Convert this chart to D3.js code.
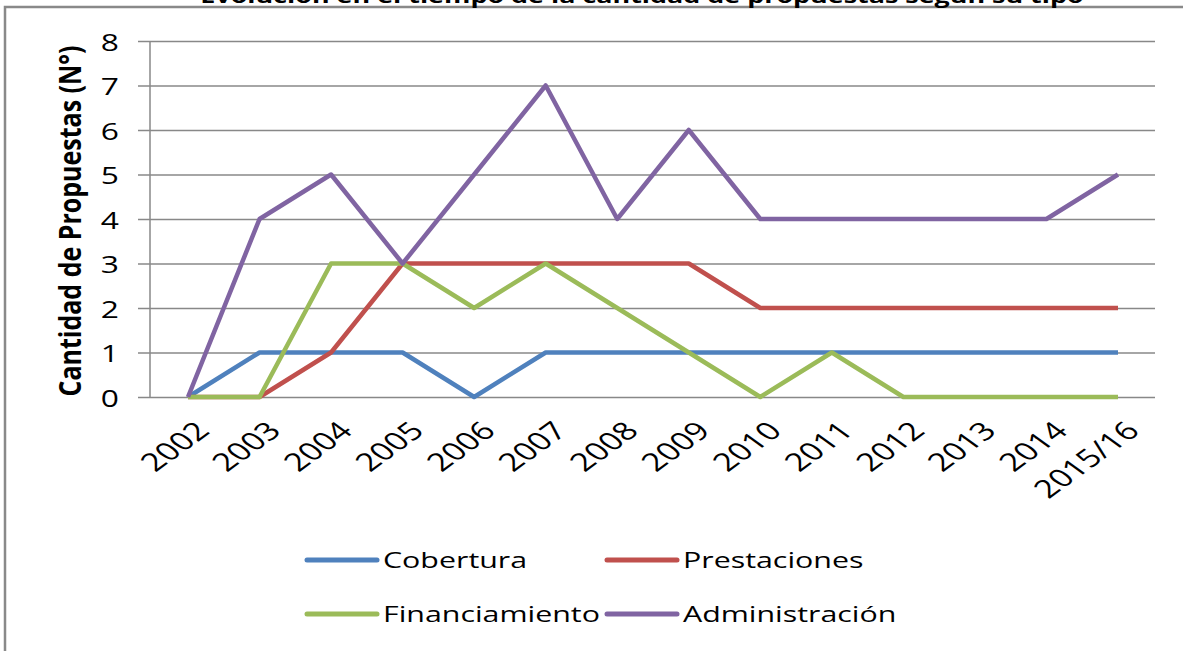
<!DOCTYPE html>
<html lang="es">
<head>
<meta charset="UTF-8">
<title>Evolución de propuestas</title>
<script src="https://d3js.org/d3.v7.min.js"></script>
<style>
    body { margin: 0; background: #fff; }
    svg text { font-family: "Open Sans", sans-serif; fill: #000; }
</style>
</head>
<body>
<svg id="chart" width="1183" height="651"></svg>
<script>
    // categories and series
    let years = ["2002","2003","2004","2005","2006","2007","2008","2009","2010","2011","2012","2013","2014","2015/16"];
    let cobertura      = [0,1,1,1,0,1,1,1,1,1,1,1,1,1];
    let prestaciones   = [0,0,1,3,3,3,3,3,2,2,2,2,2,2];
    let financiamiento = [0,0,3,3,2,3,2,1,0,1,0,0,0,0];
    let administracion = [0,4,5,3,5,7,4,6,4,4,4,4,4,5];
    let yTicks = [0,1,2,3,4,5,6,7,8];

    let seriesNames  = ["Cobertura","Prestaciones","Financiamiento","Administración"];
    let seriesValues = [cobertura, prestaciones, financiamiento, administracion];
    let colors = ["#4F81BD","#C0504D","#9BBB59","#8064A2"];

    let stretch = 1.38; // the original picture is stretched sideways

    let svg = d3.select("#chart");

    // outer frame
    svg.append("rect")
        .attr("x", 5).attr("y", 7)
        .attr("width", 1300).attr("height", 800)
        .attr("fill", "#fff")
        .attr("stroke", "#898989")
        .attr("stroke-width", 2.5);

    // title, cut at the top like the original
    svg.append("text")
        .attr("transform", "translate(642,3) scale(" + stretch + ",1)")
        .attr("text-anchor", "middle")
        .style("font-weight", "bold")
        .style("font-size", "19.5px")
        .text("Evolución en el tiempo de la cantidad de propuestas según su tipo");

    let x = d3.scalePoint().domain(years).range([188, 1118]);
    let y = d3.scaleLinear().domain([0, 8]).range([397, 41]);

    // gridlines + y axis
    let yAxis = d3.axisLeft(y).tickValues(yTicks).tickSize(-1005).tickSizeOuter(0);
    let gy = svg.append("g").attr("transform", "translate(150,0)").call(yAxis);
    gy.select(".domain").remove();
    gy.selectAll(".tick line")
        .attr("x1", -12)
        .attr("stroke", "#888")
        .attr("stroke-width", 1.5);
    gy.selectAll(".tick text")
        .attr("x", null)
        .attr("dy", null)
        .attr("transform", "translate(-31,0) scale(" + stretch + ",1)")
        .attr("dominant-baseline", "central")
        .style("font-size", "23px")
        .style("font-family", "'Open Sans', sans-serif")
        .attr("fill", "#000");

    svg.append("line")
        .attr("x1", 150).attr("x2", 150)
        .attr("y1", y(8)).attr("y2", y(0))
        .attr("stroke", "#888")
        .attr("stroke-width", 1.5);

    // x tick labels, rotated
    svg.append("g").selectAll("text")
        .data(years)
        .enter()
        .append("text")
        .attr("transform", d => "translate(" + (x(d) + 6) + ",420) scale(" + stretch + ",1) rotate(-45)")
        .attr("text-anchor", "end")
        .attr("dy", "0.7em")
        .style("font-size", "25px")
        .text(d => d);

    // y axis title
    svg.append("text")
        .attr("transform", "translate(81,221) scale(1.2,1) rotate(-90)")
        .attr("text-anchor", "middle")
        .style("font-weight", "bold")
        .style("font-size", "25px")
        .text("Cantidad de Propuestas (N°)");

    // lines
    let line = d3.line()
        .x((d, i) => x(years[i]))
        .y(d => y(d));

    svg.append("g").selectAll("path")
        .data(seriesValues)
        .enter()
        .append("path")
        .attr("d", line)
        .attr("fill", "none")
        .attr("stroke", (d, i) => colors[i])
        .attr("stroke-width", 4.5)
        .attr("stroke-linejoin", "round");

    // legend, two columns, two rows
    let legX = d3.scaleOrdinal().domain([0, 1]).range([307, 607]);
    let legY = d3.scaleOrdinal().domain([0, 1]).range([560, 614]);
    let leg = svg.append("g").selectAll("g")
        .data(seriesNames)
        .enter()
        .append("g")
        .attr("transform", (d, i) => "translate(" + legX(i % 2) + "," + legY(Math.floor(i / 2)) + ")");
    leg.append("line")
        .attr("x1", 0).attr("x2", 70)
        .attr("stroke", (d, i) => colors[i])
        .attr("stroke-width", 5)
        .attr("stroke-linecap", "round");
    leg.append("text")
        .attr("transform", "translate(76,0) scale(" + stretch + ",1)")
        .attr("dominant-baseline", "central")
        .style("font-size", "22px")
        .text(d => d);
</script>
</body>
</html>
